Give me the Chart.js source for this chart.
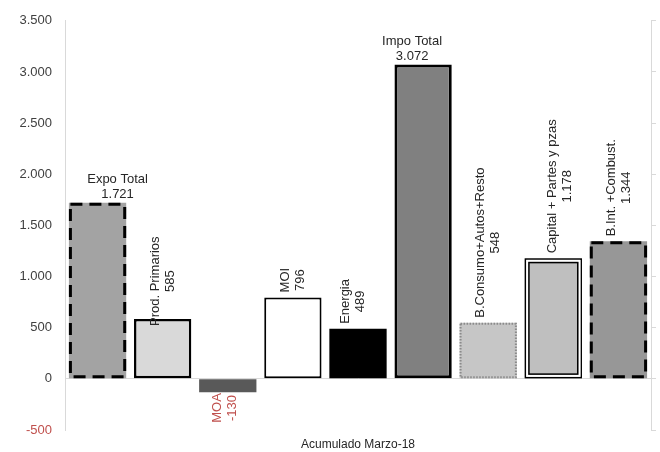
<!DOCTYPE html>
<html>
<head>
<meta charset="utf-8">
<script src="https://cdn.jsdelivr.net/npm/chart.js@4.4.1/dist/chart.umd.min.js"></script>
<style>
  html, body { margin: 0; padding: 0; background: #fff; }
</style>
</head>
<body>
<canvas id="balanza" width="660" height="452"></canvas>
<script>
// data
const categories = ['Expo Total', 'Prod. Primarios', 'MOA', 'MOI', 'Energia', 'Impo Total',
  'B.Consumo+Autos+Resto', 'Capital + Partes y pzas', 'B.Int. +Combust.'];
const values = [1721, 585, -130, 796, 489, 3072, 548, 1178, 1344];
const yMin = -500;
const yMax = 3500;
const yStep = 500;
const xTitle = 'Acumulado Marzo-18';

// look of each bar
const fills = ['#a3a3a3', '#d9d9d9', '#595959', '#ffffff', '#000000', '#808080', '#c6c6c6', '#bfbfbf', '#979797'];
const borderKind = ['dash', 'solid', 'none', 'solid', 'none', 'solid', 'dots', 'double', 'dash'];
const solidWidth = [0, 2.5, 0, 2, 0, 3, 0, 0, 0];
const flatLabel = [true, false, false, false, false, true, false, false, false];
const labelShiftX = [20, 0, -3, 0, -5, -11, 0, 7, 0];
const labelShiftY = [0, 12, 0, 0, 0, 0, 0, 0, 0];

const FONT = "'Liberation Sans', Arial, sans-serif";
const RED = '#c0504d';
const AXIS = '#d9d9d9';

function fmt(v) {
  const s = String(Math.abs(v)).replace(/\B(?=(\d{3})+(?!\d))/g, '.');
  return (v < 0 ? '-' : '') + s;
}

const barDecor = {
  id: 'barDecor',
  afterDatasetsDraw(chart) {
    const ctx = chart.ctx;
    const bars = chart.getDatasetMeta(0).data;
    bars.forEach((bar, i) => {
      const p = bar.getProps(['x', 'y', 'base', 'width'], true);
      const left = p.x - p.width / 2;
      const top = Math.min(p.y, p.base);
      const w = p.width;
      const h = Math.abs(p.base - p.y);
      ctx.save();
      if (borderKind[i] === 'dash') {
        ctx.strokeStyle = '#000';
        ctx.lineWidth = 3;
        ctx.setLineDash([12, 7]);
        ctx.strokeRect(left + 1.5, top + 1.5, w - 3, h - 3);
      } else if (borderKind[i] === 'dots') {
        ctx.strokeStyle = '#8a8a8a';
        ctx.lineWidth = 2;
        ctx.setLineDash([1.5, 1.5]);
        ctx.strokeRect(left + 1, top + 1, w - 2, h - 2);
      } else if (borderKind[i] === 'double') {
        ctx.strokeStyle = '#000';
        ctx.lineWidth = 1.5;
        ctx.strokeRect(left + 0.75, top + 0.75, w - 1.5, h - 1.5);
        ctx.strokeStyle = '#fff';
        ctx.lineWidth = 2;
        ctx.strokeRect(left + 2.5, top + 2.5, w - 5, h - 5);
        ctx.strokeStyle = '#000';
        ctx.lineWidth = 1.5;
        ctx.strokeRect(left + 4.25, top + 4.25, w - 8.5, h - 8.5);
      }
      ctx.restore();

      // value labels
      const lines = [categories[i], fmt(values[i])];
      ctx.save();
      ctx.font = '13px ' + FONT;
      ctx.fillStyle = values[i] < 0 ? RED : '#262626';
      const cx = p.x + labelShiftX[i];
      if (flatLabel[i]) {
        ctx.textAlign = 'center';
        ctx.textBaseline = 'alphabetic';
        const baseY = p.y - 5 + labelShiftY[i];
        ctx.fillText(lines[1], cx, baseY);
        ctx.fillText(lines[0], cx, baseY - 15);
      } else {
        const maxW = Math.max(...lines.map(t => ctx.measureText(t).width));
        ctx.textAlign = 'center';
        ctx.textBaseline = 'middle';
        if (values[i] >= 0) {
          ctx.translate(cx, p.y - 5 + labelShiftY[i]);
          ctx.rotate(-Math.PI / 2);
          lines.forEach((t, k) => ctx.fillText(t, maxW / 2, (k - 0.5) * 15));
        } else {
          ctx.translate(cx, p.y + 1 + labelShiftY[i]);
          ctx.rotate(-Math.PI / 2);
          lines.forEach((t, k) => ctx.fillText(t, -maxW / 2, (k - 0.5) * 15));
        }
      }
      ctx.restore();
    });
  }
};

new Chart(document.getElementById('balanza').getContext('2d'), {
  type: 'bar',
  data: {
    labels: categories,
    datasets: [{
      data: values,
      backgroundColor: fills,
      borderColor: '#000',
      borderWidth: solidWidth,
      borderSkipped: false,
      categoryPercentage: 1,
      barPercentage: 0.88,
      yAxisID: 'y'
    }]
  },
  options: {
    responsive: false,
    animation: false,
    layout: { padding: { top: 16, left: 0, right: 0, bottom: 0 } },
    plugins: {
      legend: { display: false },
      tooltip: { enabled: false }
    },
    scales: {
      x: {
        ticks: { display: false },
        grid: { display: false },
        border: { display: false },
        title: {
          display: true,
          text: xTitle,
          color: '#262626',
          font: { family: FONT, size: 12 },
          padding: { top: 4, bottom: 0 }
        },
        afterFit(scale) { scale.height = 22; }
      },
      y: {
        min: yMin,
        max: yMax,
        ticks: {
          stepSize: yStep,
          padding: 13,
          color: ctx => ctx.tick.value < 0 ? RED : '#404040',
          font: { family: FONT, size: 13 },
          callback: v => fmt(v)
        },
        grid: {
          drawTicks: false,
          color: ctx => ctx.tick && ctx.tick.value === 0 ? AXIS : 'rgba(0,0,0,0)'
        },
        border: { display: true, color: AXIS },
        afterFit(scale) { scale.width = 65; }
      },
      y1: {
        position: 'right',
        min: yMin,
        max: yMax,
        ticks: { display: false, stepSize: yStep },
        grid: { drawOnChartArea: false, color: AXIS, tickLength: 5 },
        border: { display: true, color: AXIS },
        afterFit(scale) { scale.width = 9; }
      }
    }
  },
  plugins: [barDecor]
});
</script>
</body>
</html>
